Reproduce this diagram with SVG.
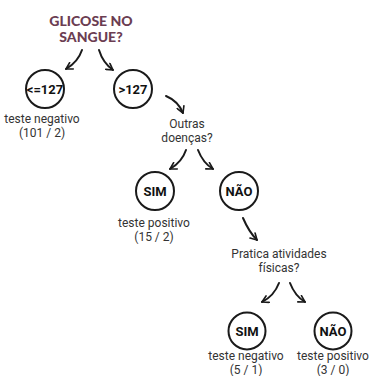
<svg xmlns="http://www.w3.org/2000/svg" width="370" height="376" viewBox="0 0 370 376">
<defs>
<marker id="ah" viewBox="0 0 10 10" refX="8" refY="5" markerWidth="9" markerHeight="9" markerUnits="userSpaceOnUse" orient="auto">
<path d="M1,1 L8,5 L1,9" fill="none" stroke="#1a1a1a" stroke-width="1.8" stroke-linecap="round" stroke-linejoin="round"/>
</marker>
<style>
.title{font-family:Lato,"Liberation Sans",sans-serif;font-weight:900;font-size:14px;fill:#6b3d52;text-anchor:middle}
.node circle{fill:#fff;stroke:#1a1a1a;stroke-width:2}
.nl{font-family:Roboto,"Liberation Sans",sans-serif;font-weight:bold;font-size:13px;fill:#111;text-anchor:middle}
.lbl{font-family:Roboto,"Liberation Sans",sans-serif;font-size:12px;fill:#333;text-anchor:middle}
.arr{fill:none;stroke:#1a1a1a;stroke-width:2;stroke-linecap:round;marker-end:url(#ah)}
</style>
</defs>
<rect width="370" height="376" fill="#fff"/>
<g id="title">
<text class="title" x="91" y="26">GLICOSE NO</text>
<text class="title" x="91" y="42">SANGUE?</text>
</g>
<g id="connectors">
<path class="arr" d="M82,50 Q78,62 66,69"/>
<path class="arr" d="M99,50 Q103,63 113,70"/>
<path class="arr" d="M166,96 Q178,101 183,113"/>
<path class="arr" d="M186,150 Q182,162 170,169"/>
<path class="arr" d="M198,150 Q203,163 213,169"/>
<path class="arr" d="M243,218 Q249,232 257,240"/>
<path class="arr" d="M279,283 Q274,296 262,302"/>
<path class="arr" d="M290,283 Q295,296 305,302"/>
</g>
<g id="n_le127" class="node">
<circle cx="45" cy="89" r="19"/>
<text class="nl" x="45" y="93.5" font-size="12">&lt;=127</text>
<text class="lbl" x="42" y="123">teste negativo</text>
<text class="lbl" x="42" y="137">(101 / 2)</text>
</g>
<g id="n_gt127" class="node">
<circle cx="133" cy="89" r="19"/>
<text class="nl" x="133" y="93.5" font-size="12">&gt;127</text>
</g>
<g id="q_outras">
<text class="lbl" x="187" y="128">Outras</text>
<text class="lbl" x="187" y="142">doenças?</text>
</g>
<g id="n_sim1" class="node">
<circle cx="155" cy="191" r="19"/>
<text class="nl" x="155" y="196">SIM</text>
<text class="lbl" x="154" y="227">teste positivo</text>
<text class="lbl" x="154" y="241">(15 / 2)</text>
</g>
<g id="n_nao1" class="node">
<circle cx="239" cy="191" r="19"/>
<text class="nl" x="239" y="196">NÃO</text>
</g>
<g id="q_pratica">
<text class="lbl" x="279" y="258">Pratica atividades</text>
<text class="lbl" x="279" y="272">físicas?</text>
</g>
<g id="n_sim2" class="node">
<circle cx="247" cy="331" r="18.5"/>
<text class="nl" x="247" y="336">SIM</text>
<text class="lbl" x="246" y="360">teste negativo</text>
<text class="lbl" x="246" y="374">(5 / 1)</text>
</g>
<g id="n_nao2" class="node">
<circle cx="333" cy="331" r="18.5"/>
<text class="nl" x="333" y="336">NÃO</text>
<text class="lbl" x="333" y="360">teste positivo</text>
<text class="lbl" x="333" y="374">(3 / 0)</text>
</g>
</svg>
